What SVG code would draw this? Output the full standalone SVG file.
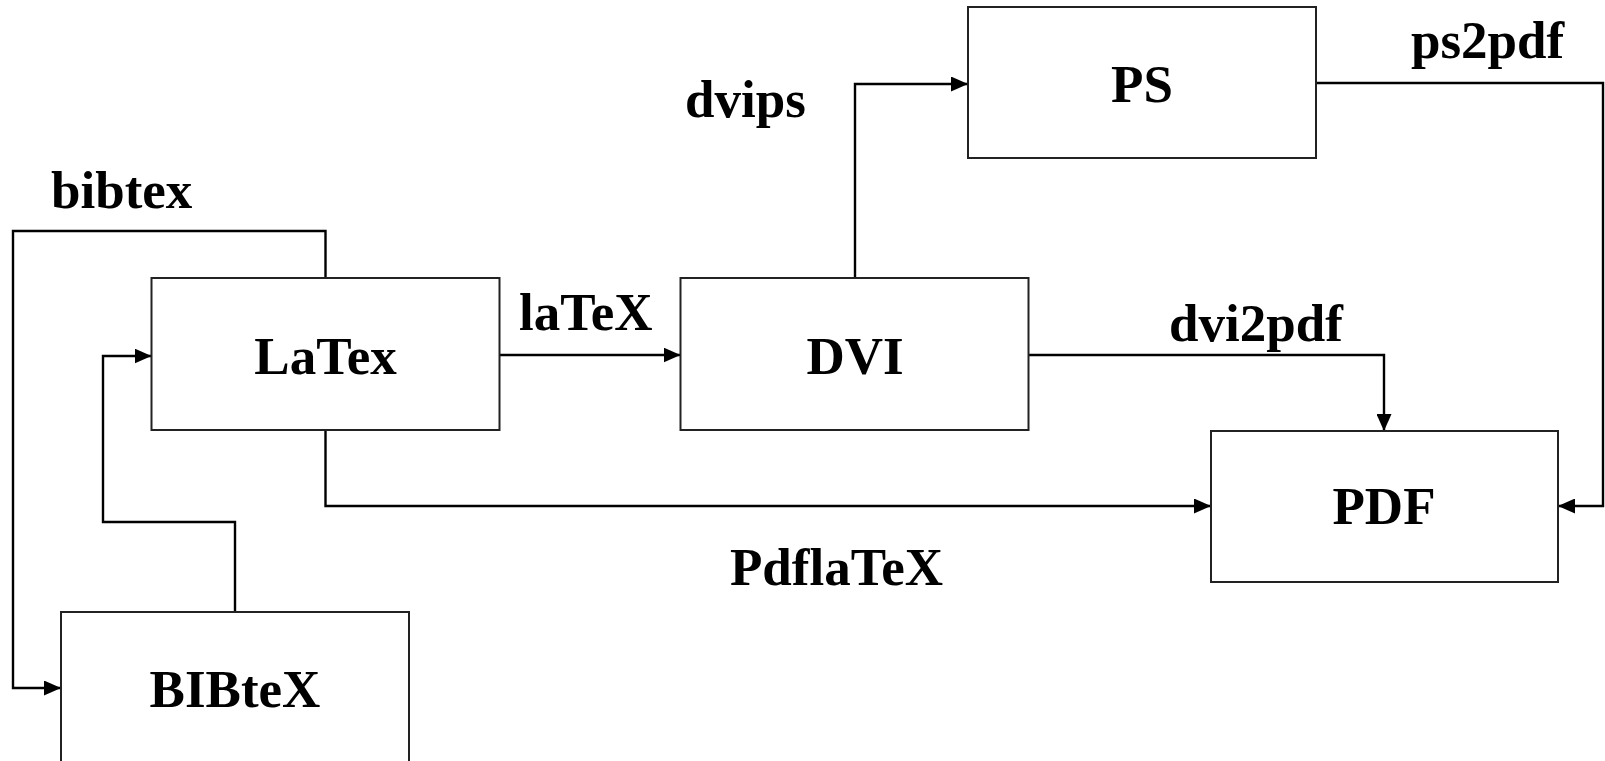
<svg xmlns="http://www.w3.org/2000/svg" width="1605" height="761" viewBox="0 0 1605 761">
<style>
.box{fill:#fff;stroke:#222;stroke-width:2}
.lbl{font-family:"Liberation Serif","Times New Roman",serif;font-weight:bold;font-size:53px;fill:#000}
.mid{text-anchor:middle}
.edge{fill:none;stroke:#000;stroke-width:2.4;marker-end:url(#ah)}
</style>
<defs>
<marker id="ah" viewBox="0 0 17 15" refX="17" refY="7.5" markerWidth="17" markerHeight="15" markerUnits="userSpaceOnUse" orient="auto">
<path d="M0,0 L17,7.5 L0,15 Z" fill="#000"/>
</marker>
</defs>
<rect width="1605" height="761" fill="#fff"/>
<g id="connectors">
<path class="edge" d="M325.5,278 V231 H13 V688 H61"/>
<path class="edge" d="M235,612 V522 H103 V356 H151.5"/>
<path class="edge" d="M499.5,355 H680.5"/>
<path class="edge" d="M325.5,430 V506 H1211"/>
<path class="edge" d="M855,278 V84 H968"/>
<path class="edge" d="M1029,355 H1384 V431"/>
<path class="edge" d="M1316,83 H1603 V506 H1558"/>
<text class="lbl" x="51" y="208">bibtex</text>
<text class="lbl" x="519" y="330">laTeX</text>
<text class="lbl" x="685" y="117">dvips</text>
<text class="lbl" x="1411" y="58">ps2pdf</text>
<text class="lbl" x="1169" y="341">dvi2pdf</text>
<text class="lbl" x="730" y="585">PdflaTeX</text>
</g>
<g id="latex">
<rect class="box" x="151.5" y="278" width="348" height="152"/>
<text class="lbl mid" x="325.5" y="374">LaTex</text>
</g>
<g id="bibtex">
<rect class="box" x="61" y="612" width="348" height="160"/>
<text class="lbl mid" x="235" y="707">BIBteX</text>
</g>
<g id="dvi">
<rect class="box" x="680.5" y="278" width="348" height="152"/>
<text class="lbl mid" x="855" y="374">DVI</text>
</g>
<g id="ps">
<rect class="box" x="968" y="7" width="348" height="151"/>
<text class="lbl mid" x="1142" y="102">PS</text>
</g>
<g id="pdf">
<rect class="box" x="1211" y="431" width="347" height="151"/>
<text class="lbl mid" x="1384" y="524">PDF</text>
</g>
</svg>
